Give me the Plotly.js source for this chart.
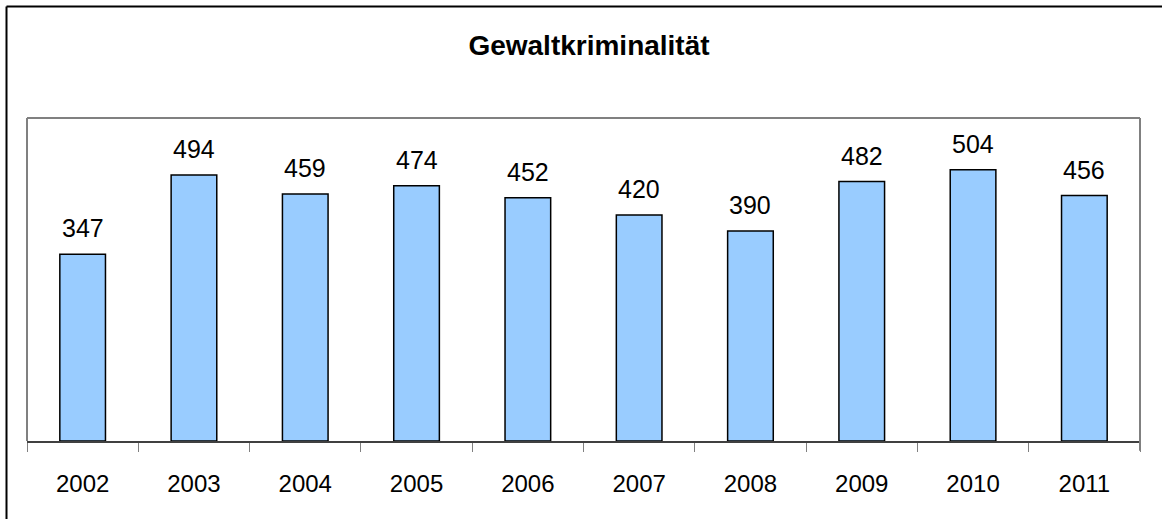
<!DOCTYPE html>
<html>
<head>
<meta charset="utf-8">
<script src="https://cdn.plot.ly/plotly-3.0.1.min.js"></script>
<style>html,body{margin:0;padding:0;background:#fff;}#chart{width:1162px;height:519px;}</style>
</head>
<body>
<div id="chart"></div>
<script>
var years = ['2002','2003','2004','2005','2006','2007','2008','2009','2010','2011'];
var values = [347, 494, 459, 474, 452, 420, 390, 482, 504, 456];
var chartTitle = 'Gewaltkriminalität';

var trace = {
  type: 'bar',
  x: years,
  y: values,
  width: 0.41,
  marker: {color: '#99CCFF', line: {color: '#000000', width: 1.5}},
  hoverinfo: 'skip'
};

var annotations = years.map(function(y, i){
  return {x: i, y: values[i], xref: 'x', yref: 'y', text: String(values[i]),
    showarrow: false, yanchor: 'bottom', yshift: 10,
    font: {family: 'Liberation Sans, Arial, sans-serif', size: 25, color: '#000'}};
});

var layout = {
  width: 1162, height: 519,
  margin: {l: 27, r: 22, t: 118, b: 78},
  paper_bgcolor: '#ffffff', plot_bgcolor: '#ffffff',
  showlegend: false,
  title: {text: '<b>' + chartTitle + '</b>', x: 589/1162, xanchor: 'center', y: 1 - 45/519, yanchor: 'middle', yref: 'container',
    font: {family: 'Liberation Sans, Arial, sans-serif', size: 28, color: '#000'}},
  xaxis: {type: 'category', range: [-0.5, 9.5], autorange: false, tickson: 'boundaries', ticks: 'outside', ticklen: 9, tickwidth: 1, tickcolor: '#808080',
    showline: true, linecolor: '#404040', linewidth: 1.5, showgrid: false, zeroline: false, tickangle: 0,
    ticklabelstandoff: 21,
    tickfont: {family: 'Liberation Sans, Arial, sans-serif', size: 24, color: '#000'}},
  yaxis: {range: [0, 600], autorange: false, showticklabels: false, ticks: '', showgrid: false, zeroline: false, showline: false},
  annotations: annotations,
  shapes: [
    {type: 'line', xref: 'paper', yref: 'paper', x0: 0, x1: 0, y0: 0, y1: 1, line: {color: '#808080', width: 2}},
    {type: 'line', xref: 'paper', yref: 'paper', x0: 0, x1: 1, y0: 1, y1: 1, line: {color: '#808080', width: 2}},
    {type: 'line', xref: 'paper', yref: 'paper', x0: 1, x1: 1, y0: -0.03, y1: 1, line: {color: '#808080', width: 2}},
    {type: 'line', xref: 'paper', yref: 'paper', x0: (6.5-27)/1113, x1: 1.03, y0: (441-6.5)/323, y1: (441-6.5)/323, line: {color: '#000', width: 2}},
    {type: 'line', xref: 'paper', yref: 'paper', x0: (6.5-27)/1113, x1: (6.5-27)/1113, y0: (441-6.5)/323, y1: -0.3, line: {color: '#000', width: 2}}
  ]
};

Plotly.newPlot('chart', [trace], layout, {displayModeBar: false, staticPlot: true});
</script>
</body>
</html>
